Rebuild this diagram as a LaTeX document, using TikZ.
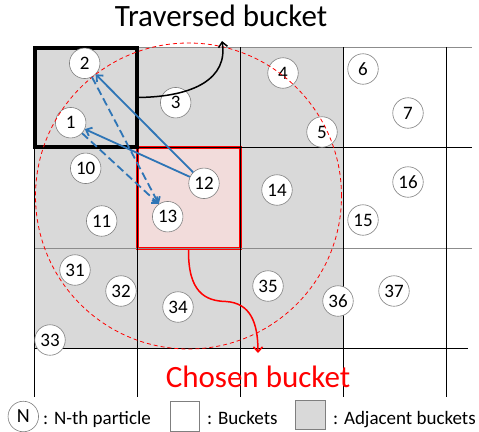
\documentclass[tikz,border=0pt]{standalone}
\usepackage{fontspec}
\setmainfont{Carlito}
\usetikzlibrary{arrows.meta}
\definecolor{adjfill}{HTML}{D9D9D9}
\definecolor{chosenfill}{HTML}{F2DCDB}
\definecolor{arrowblue}{HTML}{2E75B6}
\definecolor{gridgray}{HTML}{8C8C8C}
\definecolor{circgray}{HTML}{7F7F7F}
\begin{document}
\begin{tikzpicture}[x=1pt,y=-1pt,
  particle/.style={circle, draw=circgray, fill=white, line width=0.6pt,
    minimum size=30.5pt, inner sep=0pt, font=\fontsize{19}{19}\selectfont},
  gridline/.style={line width=0.9pt, black},
  lightgrid/.style={line width=0.9pt, gridgray},
  barbtip/.style={-{Straight Barb[length=5pt,width=9pt]}},
  bluearrow/.style={barbtip, arrowblue, line width=1.8pt},
  bluedash/.style={bluearrow, dash pattern=on 8pt off 4pt},
  bigtext/.style={font=\fontsize{31}{31}\selectfont, inner sep=0pt, anchor=base},
  legtext/.style={font=\fontsize{19}{19}\selectfont, inner sep=0pt, anchor=base west},
  legbox/.style={draw=circgray, line width=0.6pt, minimum size=29.5pt, inner sep=0pt},
]
\useasboundingbox (0,0) rectangle (479,431);

% bucket fills
\fill[adjfill] (34,47) rectangle (343,348);
\fill[chosenfill] (137,147) rectangle (240,248);
\draw[red, line width=3pt] (137,147) rectangle (240,248);

% grid
\draw[lightgrid] (137,47) -- (472,47);
\draw[gridline] (34,147) -- (472,147);
\draw[lightgrid] (34,248) -- (472,248);
\draw[gridline] (34,348) -- (468,348);
\foreach \gx in {34,137,240,343,446}
  \draw[gridline] (\gx,47) -- (\gx,397);

% traversed bucket
\draw[line width=4pt, line join=miter] (35,48) rectangle (137,147);

% particles
\node[particle] (p1) at (70.7,122.7) {1};
\node[particle] (p2) at (84.7,63.3) {2};
\node[particle] (p3) at (175.7,102.7) {3};
\node[particle] (p4) at (283,73) {4};
\node[particle] (p5) at (322,132) {5};
\node[particle] (p6) at (363,69) {6};
\node[particle] (p7) at (408,113) {7};
\node[particle] (p10) at (85.7,168.3) {10};
\node[particle] (p11) at (101.7,221) {11};
\node[particle] (p12) at (204,183.3) {12};
\node[particle] (p13) at (167.7,216.7) {13};
\node[particle] (p14) at (277,190) {14};
\node[particle] (p15) at (363,220) {15};
\node[particle] (p16) at (408,182) {16};
\node[particle] (p31) at (75,270) {31};
\node[particle] (p32) at (121,291) {32};
\node[particle] (p33) at (50,340) {33};
\node[particle] (p34) at (178,307) {34};
\node[particle] (p35) at (268,286) {35};
\node[particle] (p36) at (338,301) {36};
\node[particle] (p37) at (394,291) {37};

% search radius
\draw[red, line width=0.8pt, dash pattern=on 4pt off 3pt] (188.5,196) circle [radius=153pt];

% neighbour arrows
\draw[bluearrow] (p12) -- (p2);
\draw[bluearrow] (p12) -- (p1);
\draw[bluedash] (p2) -- (p13.125);
\draw[bluedash] (p1) -- (p13.125);

% labels
\node[bigtext] (trav) at (221,27) {Traversed bucket};
\coordinate (travstart) at (137,97.5);
\coordinate (travend) at (222,41);
\draw[line width=1.5pt, barbtip] (travstart) .. controls (195,97) and (228,78) .. (travend);

\node[bigtext, text=red] (chosen) at (258,387) {Chosen bucket};
\coordinate (chosenstart) at (188.5,249.5);
\coordinate (chosenmid) at (226,301.5);
\coordinate (chosenend) at (258,353);
\draw[red, line width=1.5pt, barbtip] (chosenstart) .. controls (188,292) and (205,301) .. (chosenmid) .. controls (250,303) and (258,322) .. (chosenend);

% legend
\node[particle, font=\fontsize{20}{20}\selectfont] (legN) at (23.3,416.5) {N};
\node[legtext] (legNt) at (43,424) {: N-th particle};
\node[legbox, fill=white] (legB) at (184.75,416.5) {};
\node[legtext] (legBt) at (207,424) {: Buckets};
\node[legbox, fill=adjfill] (legA) at (310.5,415) {};
\node[legtext] (legAt) at (333,424) {: Adjacent buckets};
\end{tikzpicture}
\end{document}
